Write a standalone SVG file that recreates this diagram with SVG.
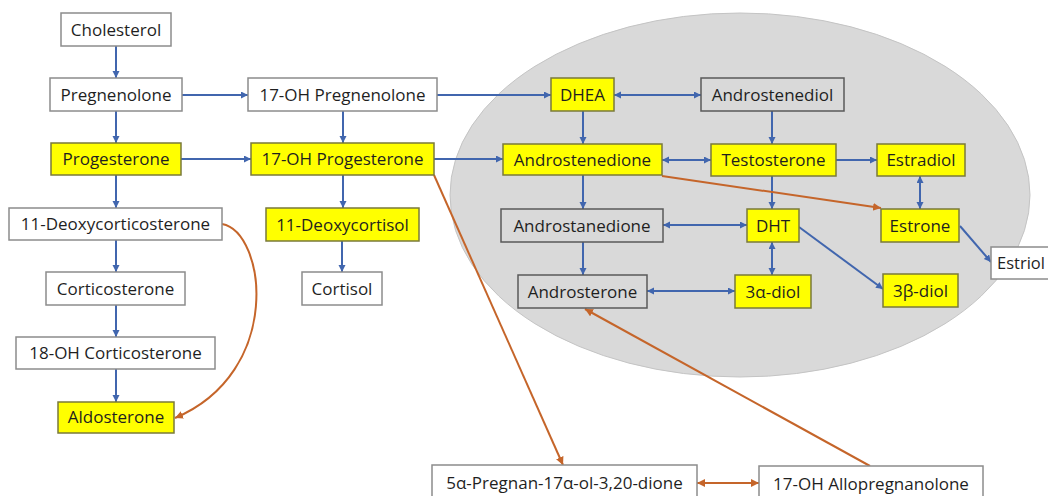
<svg xmlns="http://www.w3.org/2000/svg" width="1048" height="496" viewBox="0 0 1048 496">
<style>
  .w rect{fill:#ffffff;stroke:#8c8c8c;stroke-width:1.5}
  .y rect{fill:#ffff00;stroke:#7a7a3a;stroke-width:1.5}
  .g rect{fill:#d9d9d9;stroke:#595959;stroke-width:1.5}
  text{font-family:"Open Sans","DejaVu Sans",sans-serif;font-size:17px;fill:#1f1f1f;text-anchor:middle}
  .b{stroke:#4166ae;stroke-width:2;fill:none}
  .o{stroke:#c5652a;stroke-width:2;fill:none}
</style>
<defs>
  <marker id="ab" markerUnits="userSpaceOnUse" markerWidth="8" markerHeight="8" refX="7" refY="3.5" orient="auto-start-reverse">
    <path d="M0,0 L7,3.5 L0,7 z" fill="#4166ae"/>
  </marker>
  <marker id="ao" markerUnits="userSpaceOnUse" markerWidth="9" markerHeight="9" refX="8" refY="4" orient="auto-start-reverse">
    <path d="M0,0 L8,4 L0,8 z" fill="#c5652a"/>
  </marker>
</defs>
<rect x="0" y="0" width="1048" height="496" fill="#ffffff"/>
<ellipse id="region" cx="740" cy="195" rx="290" ry="182" fill="#d9d9d9" stroke="#c4c4c4" stroke-width="1"/>
<g id="connectors">
  <line class="b" x1="116" y1="46" x2="116" y2="78" marker-end="url(#ab)"/>
  <line class="b" x1="182" y1="95" x2="248" y2="95" marker-end="url(#ab)"/>
  <line class="b" x1="116" y1="111" x2="116" y2="143" marker-end="url(#ab)"/>
  <line class="b" x1="343" y1="111" x2="343" y2="143" marker-end="url(#ab)"/>
  <line class="b" x1="437" y1="95" x2="551" y2="95" marker-end="url(#ab)"/>
  <line class="b" x1="181" y1="159" x2="251" y2="159" marker-end="url(#ab)"/>
  <line class="b" x1="434" y1="159" x2="503" y2="159" marker-end="url(#ab)"/>
  <line class="b" x1="116" y1="175" x2="116" y2="208" marker-end="url(#ab)"/>
  <line class="b" x1="343" y1="175" x2="343" y2="208" marker-end="url(#ab)"/>
  <line class="b" x1="116" y1="240" x2="116" y2="272" marker-end="url(#ab)"/>
  <line class="b" x1="342" y1="241" x2="342" y2="272" marker-end="url(#ab)"/>
  <line class="b" x1="116" y1="305" x2="116" y2="337" marker-end="url(#ab)"/>
  <line class="b" x1="116" y1="369" x2="116" y2="402" marker-end="url(#ab)"/>
  <line class="b" x1="614" y1="95" x2="701" y2="95" marker-start="url(#ab)" marker-end="url(#ab)"/>
  <line class="b" x1="583" y1="111" x2="583" y2="144" marker-end="url(#ab)"/>
  <line class="b" x1="772" y1="111" x2="772" y2="144" marker-end="url(#ab)"/>
  <line class="b" x1="662" y1="160" x2="711" y2="160" marker-start="url(#ab)" marker-end="url(#ab)"/>
  <line class="b" x1="836" y1="160" x2="877" y2="160" marker-end="url(#ab)"/>
  <line class="b" x1="772" y1="176" x2="772" y2="209" marker-end="url(#ab)"/>
  <line class="b" x1="920" y1="176" x2="920" y2="209" marker-start="url(#ab)" marker-end="url(#ab)"/>
  <line class="b" x1="583" y1="175" x2="583" y2="209" marker-end="url(#ab)"/>
  <line class="b" x1="663" y1="225" x2="747" y2="225" marker-start="url(#ab)" marker-end="url(#ab)"/>
  <line class="b" x1="799" y1="227" x2="883" y2="289" marker-end="url(#ab)"/>
  <line class="b" x1="772" y1="242" x2="772" y2="275" marker-start="url(#ab)" marker-end="url(#ab)"/>
  <line class="b" x1="583" y1="242" x2="583" y2="275" marker-end="url(#ab)"/>
  <line class="b" x1="647" y1="291" x2="735" y2="291" marker-start="url(#ab)" marker-end="url(#ab)"/>
  <line class="b" x1="960" y1="226" x2="991" y2="262" marker-end="url(#ab)"/>
  <path class="o" d="M222,224 C266,232 284,372 175,418" marker-end="url(#ao)"/>
  <line class="o" x1="434" y1="175" x2="563" y2="465" marker-end="url(#ao)"/>
  <line class="o" x1="662" y1="176" x2="881" y2="208" marker-end="url(#ao)"/>
  <line class="o" x1="870" y1="466" x2="585" y2="309" marker-end="url(#ao)"/>
  <line class="o" x1="697" y1="483" x2="759" y2="483" marker-start="url(#ao)" marker-end="url(#ao)"/>
</g>
<g id="cholesterol" class="w"><rect x="61" y="13" width="110" height="33"/><text x="116" y="36">Cholesterol</text></g>
<g id="pregnenolone" class="w"><rect x="50" y="78" width="132" height="33"/><text x="116" y="101">Pregnenolone</text></g>
<g id="oh17-pregnenolone" class="w"><rect x="248" y="78" width="189" height="33"/><text x="342.5" y="101">17-OH Pregnenolone</text></g>
<g id="progesterone" class="y"><rect x="51" y="143" width="130" height="32"/><text x="116" y="165">Progesterone</text></g>
<g id="oh17-progesterone" class="y"><rect x="251" y="143" width="183" height="32"/><text x="342.5" y="165">17-OH Progesterone</text></g>
<g id="deoxycorticosterone" class="w"><rect x="9" y="208" width="213" height="32"/><text x="115.5" y="230">11-Deoxycorticosterone</text></g>
<g id="deoxycortisol" class="y"><rect x="266" y="208" width="153" height="33"/><text x="342.5" y="231">11-Deoxycortisol</text></g>
<g id="corticosterone" class="w"><rect x="46" y="272" width="139" height="33"/><text x="115.5" y="295">Corticosterone</text></g>
<g id="cortisol" class="w"><rect x="302" y="272" width="80" height="33"/><text x="342" y="295">Cortisol</text></g>
<g id="oh18-corticosterone" class="w"><rect x="16" y="337" width="199" height="32"/><text x="115.5" y="359">18-OH Corticosterone</text></g>
<g id="aldosterone" class="y"><rect x="58" y="402" width="116" height="31"/><text x="116" y="423">Aldosterone</text></g>
<g id="dhea" class="y"><rect x="551" y="78" width="63" height="33"/><text x="582.5" y="101">DHEA</text></g>
<g id="androstenediol" class="g"><rect x="701" y="78" width="143" height="33"/><text x="772.5" y="101">Androstenediol</text></g>
<g id="androstenedione" class="y"><rect x="503" y="144" width="159" height="31"/><text x="582.5" y="166">Androstenedione</text></g>
<g id="testosterone" class="y"><rect x="711" y="144" width="125" height="32"/><text x="773.5" y="166">Testosterone</text></g>
<g id="estradiol" class="y"><rect x="877" y="144" width="88" height="32"/><text x="921" y="166">Estradiol</text></g>
<g id="androstanedione" class="g"><rect x="501" y="209" width="162" height="33"/><text x="582" y="232">Androstanedione</text></g>
<g id="dht" class="y"><rect x="747" y="209" width="52" height="33"/><text x="773" y="232">DHT</text></g>
<g id="estrone" class="y"><rect x="881" y="209" width="78" height="33"/><text x="920" y="232">Estrone</text></g>
<g id="estriol" class="w"><rect x="991" y="247" width="70" height="32"/><text x="997" y="269" style="text-anchor:start;font-size:16.5px">Estriol</text></g>
<g id="androsterone" class="g"><rect x="518" y="275" width="129" height="33"/><text x="582.5" y="298">Androsterone</text></g>
<g id="diol3a" class="y"><rect x="735" y="275" width="76" height="33"/><text x="773" y="298">3α-diol</text></g>
<g id="diol3b" class="y"><rect x="883" y="274" width="75" height="33"/><text x="920.5" y="297">3β-diol</text></g>
<g id="pregnandione" class="w"><rect x="432" y="465" width="265" height="36"/><text x="564.5" y="489">5α-Pregnan-17α-ol-3,20-dione</text></g>
<g id="allopregnanolone" class="w"><rect x="759" y="466" width="224" height="36"/><text x="871" y="490">17-OH Allopregnanolone</text></g>
</svg>
